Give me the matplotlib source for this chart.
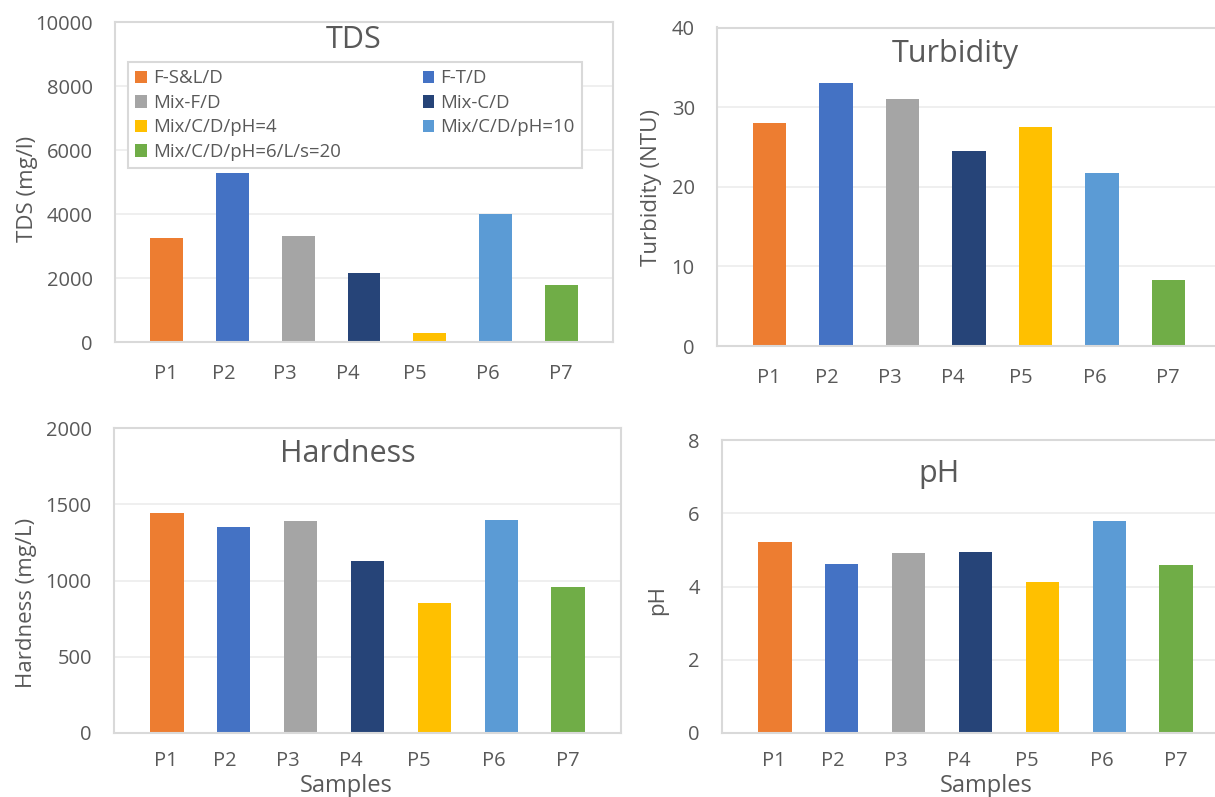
import numpy as np
import matplotlib.pyplot as plt

plt.rcParams['font.family'] = ['Open Sans', 'DejaVu Sans']

samples = ['P1', 'P2', 'P3', 'P4', 'P5', 'P6', 'P7']
series_names = ['F-S&L/D', 'F-T/D', 'Mix-F/D', 'Mix-C/D',
                'Mix/C/D/pH=4', 'Mix/C/D/pH=10', 'Mix/C/D/pH=6/L/s=20']
tds = [3250, 5280, 3310, 2150, 290, 4000, 1780]
turbidity = [28.0, 33.0, 31.0, 24.5, 27.5, 21.7, 8.25]
hardness = [1440, 1350, 1390, 1130, 850, 1400, 960]
ph = [5.21, 4.61, 4.91, 4.94, 4.12, 5.79, 4.58]

colors = ['#ED7D31', '#4472C4', '#A5A5A5', '#264478', '#FFC000', '#5B9BD5', '#70AD47']
# tick labels in the original sit a little left of the bar centres
label_shift = [-0.015, -0.14, -0.197, -0.247, -0.227, -0.113, -0.004]

TXT = '#595959'
W, H = 1215, 797
fig = plt.figure(figsize=(W / 100, H / 100), dpi=100)


def px(x, y):
    return x / W, 1 - y / H


def panel(box, values, ymax, step, xpad=16):
    x0, y0, x1, y1 = box
    ax = fig.add_axes([x0 / W, 1 - y1 / H, (x1 - x0) / W, (y1 - y0) / H])
    x = np.arange(len(samples))
    bars = ax.bar(x, values, width=0.5, color=colors, zorder=2)
    ax.set_xlim(-0.79, 6.79)
    ax.set_ylim(0, ymax)
    ax.set_yticks(np.arange(0, ymax + step / 2, step))
    ax.set_xticks(x + np.array(label_shift), labels=samples)
    ax.grid(axis='y', color='#ececec', linewidth=1.2, zorder=0)
    ax.set_axisbelow(True)
    for s in ax.spines.values():
        s.set_color('#d9d9d9')
        s.set_linewidth(1.5)
    ax.tick_params(axis='both', length=0, colors=TXT, labelsize=14.5)
    ax.tick_params(axis='y', pad=16)
    ax.tick_params(axis='x', pad=xpad)
    return ax, bars


ax1, bars1 = panel((115, 22, 613, 342), tds, 10000, 2000)
ax2, _ = panel((717, 27.5, 1221, 346), turbidity, 40, 10)
ax3, _ = panel((114, 428, 621, 733), hardness, 2000, 500, xpad=13)
ax4, _ = panel((722, 440, 1229, 733), ph, 8, 2, xpad=13)

# titles
fig.text(*px(354, 48), 'TDS', fontsize=22, color=TXT, ha='center', va='baseline')
fig.text(*px(955, 62), 'Turbidity', fontsize=22, color=TXT, ha='center', va='baseline')
fig.text(*px(348, 462), 'Hardness', fontsize=22, color=TXT, ha='center', va='baseline')
fig.text(*px(939, 482), 'pH', fontsize=22, color=TXT, ha='center', va='baseline')

# y labels
fig.text(*px(28, 189), 'TDS (mg/l)', fontsize=16, color=TXT, rotation=90, ha='center', va='center')
fig.text(*px(652, 188), 'Turbidity (NTU)', fontsize=16, color=TXT, rotation=90, ha='center', va='center')
fig.text(*px(27, 603), 'Hardness (mg/L)', fontsize=16, color=TXT, rotation=90, ha='center', va='center')
fig.text(*px(658, 600), 'pH', fontsize=16, color=TXT, rotation=90, ha='center', va='center')

# x labels
fig.text(*px(346, 792), 'Samples', fontsize=17, color=TXT, ha='center', va='baseline')
fig.text(*px(986, 792), 'Samples', fontsize=17, color=TXT, ha='center', va='baseline')

order = [0, 2, 4, 6, 1, 3, 5]
leg = ax1.legend([bars1[i] for i in order], [series_names[i] for i in order],
                 ncol=2, loc='upper left', mode='expand',
                 bbox_to_anchor=(0.026, 0.55, 0.912, 0.325),
                 fontsize=13.4, labelcolor=TXT, frameon=True, fancybox=False,
                 edgecolor='#d9d9d9', framealpha=1, handlelength=0.6,
                 handleheight=0.65, handletextpad=0.35, labelspacing=0.35,
                 borderpad=0.4, borderaxespad=0)
leg.get_frame().set_linewidth(1.5)

fig.savefig('out.png', dpi=100)
